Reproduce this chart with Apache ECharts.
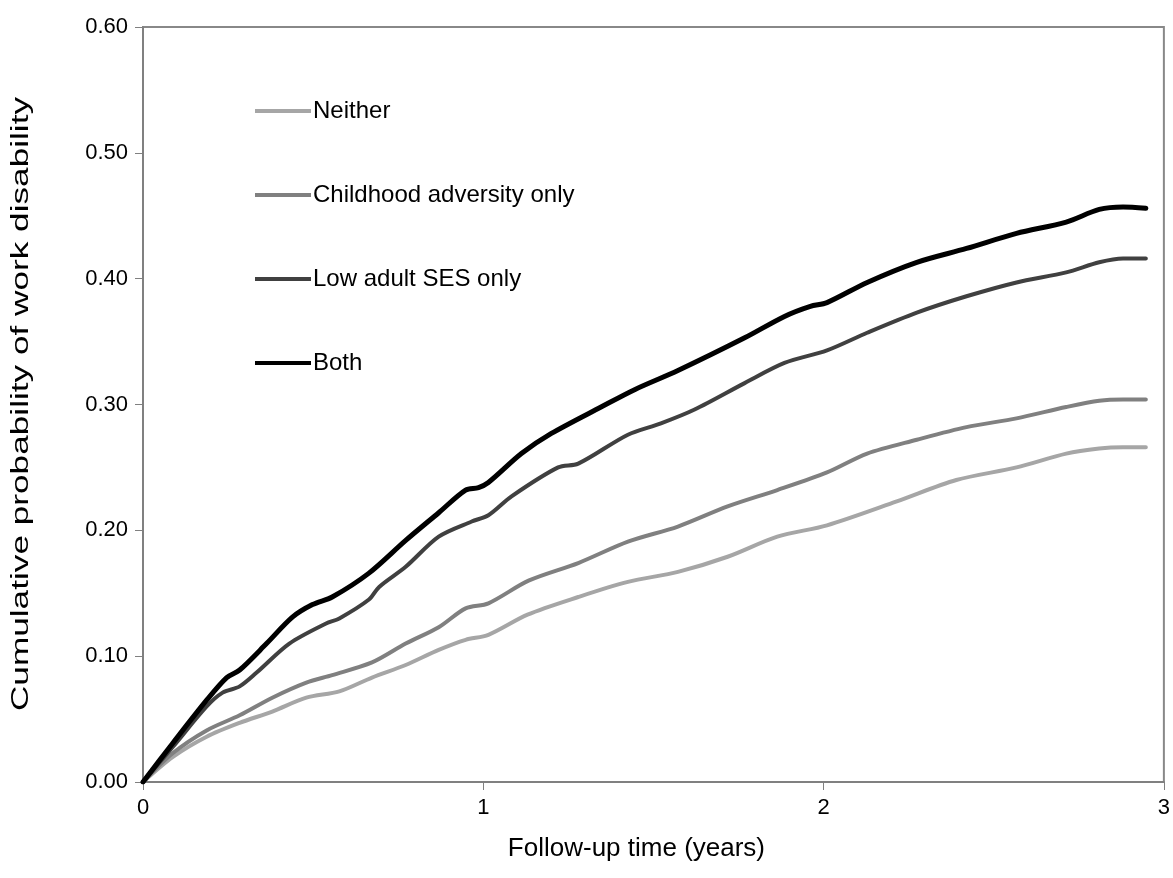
<!DOCTYPE html>
<html lang="en">
<head>
    <meta charset="UTF-8" />
    <title>Cumulative probability of work disability</title>
    <script src="https://cdn.jsdelivr.net/npm/echarts@6/dist/echarts.min.js"></script>
    <style>
        body { margin: 0; background: #fff; }
        #main { width: 1173px; height: 878px; }
    </style>
</head>
<body>
<div id="main"></div>
<script>
// follow-up time (years) / cumulative probability
let neitherData = [
    [0, 0], [0.088, 0.020], [0.187, 0.036], [0.284, 0.047], [0.38, 0.056], [0.48, 0.067],
    [0.577, 0.072], [0.673, 0.083], [0.772, 0.093], [0.869, 0.105], [0.948, 0.113], [1.015, 0.117],
    [1.13, 0.133], [1.279, 0.147], [1.425, 0.159], [1.572, 0.167], [1.718, 0.179], [1.864, 0.195],
    [2.01, 0.204], [2.215, 0.223], [2.39, 0.240], [2.567, 0.250], [2.713, 0.261], [2.81, 0.265],
    [2.88, 0.266], [2.947, 0.266]
];
let childhoodData = [
    [0, 0], [0.088, 0.023], [0.187, 0.041], [0.284, 0.053], [0.38, 0.067], [0.48, 0.079],
    [0.556, 0.085], [0.673, 0.095], [0.772, 0.110], [0.869, 0.123], [0.948, 0.138], [1.015, 0.142],
    [1.133, 0.160], [1.279, 0.174], [1.425, 0.191], [1.572, 0.203], [1.718, 0.219], [1.864, 0.232],
    [2.01, 0.246], [2.128, 0.261], [2.274, 0.272], [2.42, 0.282], [2.567, 0.289], [2.713, 0.298],
    [2.81, 0.303], [2.88, 0.304], [2.947, 0.304]
];
let lowSesData = [
    [0, 0], [0.088, 0.028], [0.187, 0.060], [0.234, 0.071], [0.284, 0.076], [0.334, 0.087],
    [0.43, 0.110], [0.538, 0.126], [0.577, 0.130], [0.664, 0.145], [0.694, 0.155], [0.772, 0.171],
    [0.869, 0.195], [0.966, 0.207], [1.015, 0.212], [1.083, 0.227], [1.22, 0.250], [1.279, 0.253],
    [1.425, 0.276], [1.522, 0.285], [1.621, 0.296], [1.768, 0.317], [1.885, 0.333], [2.01, 0.343],
    [2.128, 0.357], [2.274, 0.373], [2.42, 0.386], [2.567, 0.397], [2.713, 0.405], [2.81, 0.413],
    [2.88, 0.416], [2.947, 0.416]
];
let bothData = [
    [0, 0], [0.088, 0.031], [0.187, 0.065], [0.246, 0.083], [0.284, 0.089], [0.363, 0.110],
    [0.439, 0.131], [0.498, 0.141], [0.556, 0.147], [0.664, 0.166], [0.772, 0.192], [0.869, 0.214],
    [0.948, 0.232], [0.986, 0.234], [1.015, 0.238], [1.112, 0.261], [1.2, 0.277], [1.346, 0.298],
    [1.446, 0.312], [1.572, 0.327], [1.768, 0.353], [1.885, 0.370], [1.961, 0.378], [2.01, 0.381],
    [2.128, 0.397], [2.274, 0.413], [2.42, 0.424], [2.567, 0.436], [2.713, 0.445], [2.81, 0.455],
    [2.88, 0.457], [2.947, 0.456]
];
let seriesNames = ['Neither', 'Childhood adversity only', 'Low adult SES only', 'Both'];
let seriesColors = ['#a6a6a6', '#808080', '#404040', '#000000'];
let seriesWidths = [4, 4, 4, 5];
let allData = [neitherData, childhoodData, lowSesData, bothData];
let yTitle = 'Cumulative probability of work disability';

let myChart = echarts.init(document.getElementById('main'));
let fontName = '"Liberation Sans", Arial, sans-serif';

myChart.setOption({
    animation: false,
    textStyle: { fontFamily: fontName },
    grid: {
        left: 143, right: 5, top: 27, bottom: 96,
        show: true, borderColor: '#888888', borderWidth: 2
    },
    legend: {
        orient: 'vertical',
        left: 255, top: 99,
        padding: 0,
        itemWidth: 56, itemHeight: 4,
        itemGap: 60,
        icon: 'rect',
        data: seriesNames,
        textStyle: { fontSize: 24, color: '#000', fontFamily: fontName, padding: [0, 0, 0, -3] }
    },
    // the y title in the picture is drawn stretched along its length
    graphic: [{
        type: 'text',
        x: 22, y: 404,
        rotation: Math.PI / 2,
        scaleX: 1.53,
        style: {
            text: yTitle,
            font: '23px ' + fontName,
            fill: '#000',
            align: 'center',
            verticalAlign: 'middle'
        }
    }],
    xAxis: {
        type: 'value', min: 0, max: 3, interval: 1,
        name: 'Follow-up time (years)',
        nameLocation: 'middle', nameGap: 54,
        nameTextStyle: { fontSize: 26, color: '#000', padding: [0, 34, 0, 0] },
        axisLine: { lineStyle: { color: '#808080', width: 2 } },
        axisTick: { show: true, length: 8, lineStyle: { color: '#808080', width: 1 } },
        axisLabel: { fontSize: 22, color: '#000', margin: 15 },
        splitLine: { show: false }
    },
    yAxis: {
        type: 'value', min: 0, max: 0.6, interval: 0.1,
        axisLine: { show: true, lineStyle: { color: '#808080', width: 2 } },
        axisTick: { show: true, length: 8, lineStyle: { color: '#808080', width: 1 } },
        axisLabel: {
            fontSize: 22, color: '#000', margin: 15,
            formatter: function (v) { return v.toFixed(2); }
        },
        splitLine: { show: false }
    },
    series: allData.map(function (d, i) {
        return {
            name: seriesNames[i],
            type: 'line',
            data: d,
            showSymbol: false,
            smooth: 0.3,
            color: seriesColors[i],
            lineStyle: { color: seriesColors[i], width: seriesWidths[i], cap: 'round' },
            z: 2 + i
        };
    })
});
</script>
</body>
</html>
